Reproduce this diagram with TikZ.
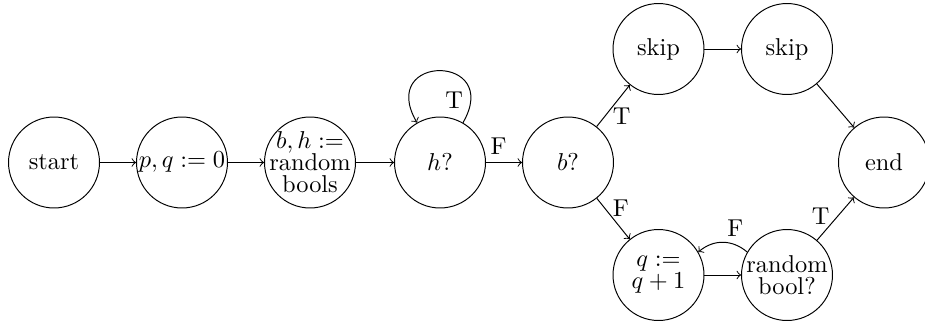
\documentclass[tikz,border=0pt]{standalone}
\begin{document}
\begin{tikzpicture}[x=0.41pt,y=-0.41pt,
  st/.style={draw, circle, minimum size=37.3pt, inner sep=0pt, align=center},
  ctr/.style={align=center, inner sep=0pt},
  lab/.style={inner sep=3pt}]
\useasboundingbox (0,0) rectangle (925,322);
\node[st] (start) at (54,162.5) {start};
\node[st] (pq) at (182,162.5) {$p,q:=0$};
\node[st, label={[ctr]center:{$b,h:=$\\[-3pt]random\\[-3pt]bools}}] (bh) at (310,162.5) {};
\node[st] (h) at (440,162.5) {$h?$};
\node[st] (b) at (568,162.5) {$b?$};
\node[st] (s1) at (658.5,49) {skip};
\node[st] (s2) at (787,49) {skip};
\node[st] (end) at (884,162.5) {end};
\node[st] (q) at (658.5,275) {$q:=$\\[-3pt]$q+1$};
\node[st, label={[ctr]center:{random\\[-3pt]bool?}}] (rb) at (787,275) {};

\draw[->] (start) -- (pq);
\draw[->] (pq) -- (bh);
\draw[->] (bh) -- (h);
\draw[->] (h) -- node[lab, pos=0.35, above] (lF1) {F} (b);
\draw[->] (h.60) .. controls +(40,-69.3) and +(-40,-69.3) .. node[lab, pos=0.12, left] (lT1) {T} (h.120);
\draw[->] (b) -- node[lab, pos=0.25, right] (lT2) {T} (s1);
\draw[->] (b) -- node[lab, pos=0.25, right] (lF2) {F} (q);
\draw[->] (s1) -- (s2);
\draw[->] (s2) -- (end);
\draw[->] (q) -- (rb);
\draw[->] (rb.150) .. controls +(-15.3,-12.9) and +(15.3,-12.9) .. node[lab, pos=0.25, above] (lF3) {F} (q.30);
\draw[->] (rb) -- node[lab, pos=0.55, left] (lT3) {T} (end);
\end{tikzpicture}
\end{document}
